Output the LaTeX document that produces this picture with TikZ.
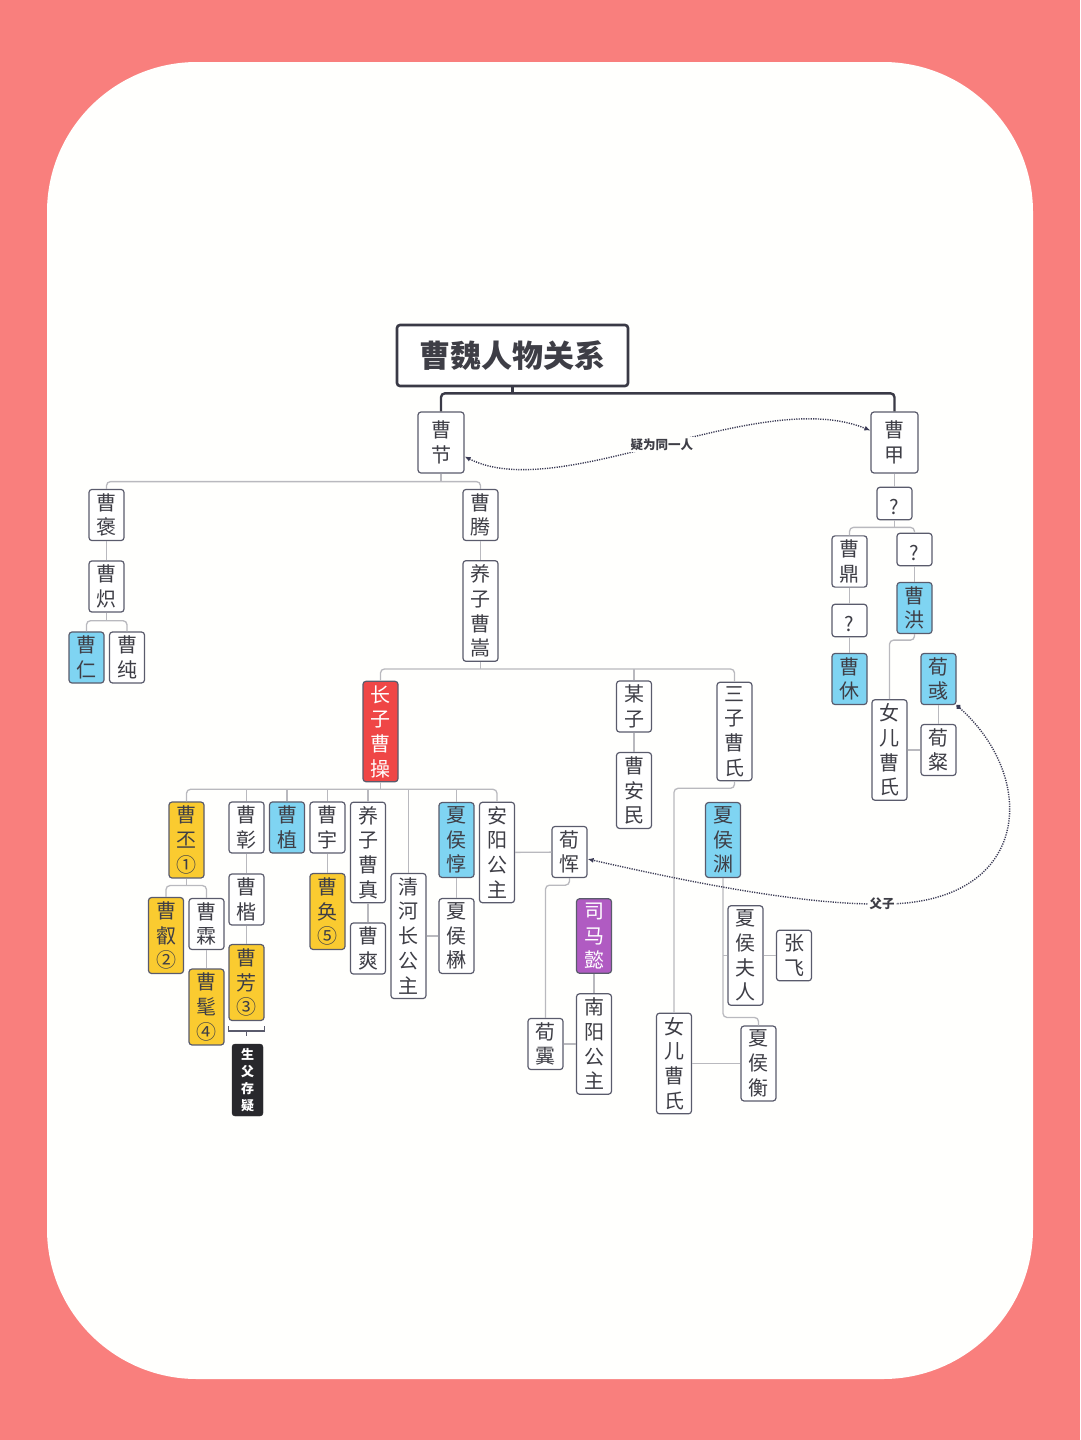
\documentclass[tikz,border=0pt]{standalone}
\usepackage{fontspec}
\setmainfont{Noto Sans CJK SC}
\usetikzlibrary{arrows.meta}

\definecolor{bgpink}{HTML}{F97F7D}
\definecolor{paper}{HTML}{FFFFFD}
\definecolor{nodeline}{HTML}{5A5B6C}
\definecolor{inkgrey}{HTML}{3E3E46}
\definecolor{linkgrey}{HTML}{B9B9BE}
\definecolor{darklink}{HTML}{3A3A46}
\definecolor{hintnavy}{HTML}{3B3B55}
\definecolor{genblue}{HTML}{7FD4F2}
\definecolor{empyellow}{HTML}{FACB30}
\definecolor{foundred}{HTML}{EF4646}
\definecolor{rivalpurple}{HTML}{B05BC2}
\definecolor{remarkblack}{HTML}{28282C}

\newcommand\vstrut{\rule[-1.5pt]{0pt}{24.5pt}}
\newcommand\personfont{\fontsize{20}{24.7}\selectfont}

\begin{document}
\begin{tikzpicture}[x=1pt, y=-1pt,
  person/.style={draw=nodeline, line width=1.2pt, fill=white, rounded corners=3pt,
    text=inkgrey, font=\personfont, align=center, minimum width=35pt,
    inner xsep=0pt, inner ysep=4pt,
    execute at begin node=\vstrut, execute at end node=\vstrut},
  general/.style={person, fill=genblue},
  emperor/.style={person, fill=empyellow},
  founder/.style={person, fill=foundred, text=white},
  rival/.style={person, fill=rivalpurple, text=white},
  remark/.style={fill=remarkblack, draw=remarkblack, rounded corners=3pt, text=white,
    font=\bfseries\fontsize{13}{17}\selectfont, align=center,
    minimum width=31pt, minimum height=72pt, inner sep=0pt},
  headline/.style={draw=darklink, line width=2.6pt, rounded corners=3pt, fill=white,
    text=inkgrey, font=\bfseries\fontsize{31}{31}\selectfont,
    minimum width=231pt, minimum height=61pt},
  mainlink/.style={draw=darklink, line width=2.4pt, rounded corners=4pt},
  link/.style={draw=linkgrey, line width=1.3pt, rounded corners=4pt},
  bracket/.style={draw=nodeline, line width=1.2pt},
  hint/.style={draw=hintnavy, line width=1.4pt, dash pattern=on 1.2pt off 1.2pt,
    >={Latex[length=6pt,width=5pt]}},
  tag/.style={fill=paper, inner sep=1.5pt, text=inkgrey,
    font=\bfseries\fontsize{12.5}{12.5}\selectfont}]

\useasboundingbox (0,0) rectangle (1080,1440);
\fill[bgpink] (0,0) rectangle (1080,1440);
\fill[paper, rounded corners=150pt] (47,62) rectangle (1033,1379);

\node[headline] (title) at (512.5,355.5) {曹魏人物关系};
\node[person, minimum width=46pt, minimum height=61pt] (cao_jie) at (441,442.5) {曹\\节};
\node[person, minimum width=47pt, minimum height=61pt] (cao_jia) at (894.5,442.5) {曹\\甲};

\node[person] (cao_bao) at (106.5,515) {曹\\褒};
\node[person] (cao_chi) at (106.5,586.5) {曹\\炽};
\node[general] (cao_ren) at (86.5,657.5) {曹\\仁};
\node[person] (cao_chun) at (127,657.5) {曹\\纯};
\node[person] (cao_teng) at (480.5,515) {曹\\腾};
\node[person] (cao_song) at (480.5,611) {养\\子\\曹\\嵩};

\node[founder] (cao_cao) at (380.5,731.5) {长\\子\\曹\\操};
\node[person] (mou_zi) at (634,706.5) {某\\子};
\node[person] (cao_anmin) at (634,790.5) {曹\\安\\民};
\node[person] (san_zi) at (734.5,731.5) {三\\子\\曹\\氏};

\node[emperor] (cao_pi) at (186.5,840) {曹\\丕\\①};
\node[person] (cao_zhang) at (246.5,827.5) {曹\\彰};
\node[general] (cao_zhi) at (287,827.5) {曹\\植};
\node[person] (cao_yu) at (327.5,827.5) {曹\\宇};
\node[person] (cao_zhen) at (368,852.5) {养\\子\\曹\\真};
\node[person] (qinghe) at (408.5,936) {清\\河\\长\\公\\主};
\node[general] (xiahou_dun) at (456.5,840) {夏\\侯\\惇};
\node[person] (anyang) at (497,852.5) {安\\阳\\公\\主};

\node[emperor] (cao_rui) at (166,935.5) {曹\\叡\\②};
\node[person] (cao_lin) at (206.5,924) {曹\\霖};
\node[emperor] (cao_mao) at (206.5,1007) {曹\\髦\\④};
\node[person] (cao_kai) at (246.5,899.5) {曹\\楷};
\node[emperor] (cao_fang) at (246.5,982.5) {曹\\芳\\③};
\node[remark] (doubt) at (247.5,1080) {生\\父\\存\\疑};
\node[emperor] (cao_huan) at (327.5,911.5) {曹\\奂\\⑤};
\node[person] (cao_shuang) at (368,948.5) {曹\\爽};
\node[person] (xiahou_mao) at (456.5,936) {夏\\侯\\楙};

\node[person] (xun_yun) at (569.5,852) {荀\\恽};
\node[person] (xun_yi) at (545.5,1044) {荀\\霬};
\node[rival] (sima_yi) at (594,936) {司\\马\\懿};
\node[person] (nanyang) at (594,1044) {南\\阳\\公\\主};

\node[general] (xiahou_yuan) at (723,840) {夏\\侯\\渊};
\node[person] (furen) at (745.5,955.5) {夏\\侯\\夫\\人};
\node[person] (zhang_fei) at (794,955.5) {张\\飞};
\node[person] (xiahou_heng) at (758.5,1063.5) {夏\\侯\\衡};
\node[person] (nver_b) at (674,1063.5) {女\\儿\\曹\\氏};

\node[person] (q_1) at (894.5,503.5) {?};
\node[person] (cao_ding) at (849.5,561.5) {曹\\鼎};
\node[person] (q_2) at (914.5,549.5) {?};
\node[person] (q_3) at (849.5,620.5) {?};
\node[general] (cao_xiu) at (849.5,679) {曹\\休};
\node[general] (cao_hong) at (914.5,608) {曹\\洪};
\node[person] (nver_a) at (889.5,750) {女\\儿\\曹\\氏};
\node[general] (xun_yu) at (938.5,679) {荀\\彧};
\node[person] (xun_can) at (938.5,750) {荀\\粲};

\draw[mainlink] (title.south) -- ++(0,6) coordinate (t_bus);
\draw[mainlink] (cao_jie.north) |- (t_bus) -| (cao_jia.north);

\draw[link] (cao_jie.south) -- ++(0,8) coordinate (jie_bus);
\draw[link] (cao_bao.north) |- (jie_bus) -| (cao_teng.north);
\draw[link] (cao_chi.south) -- ++(0,8) coordinate (chi_bus);
\draw[link] (cao_ren.north) |- (chi_bus) -| (cao_chun.north);

\draw[link] (cao_song.south) -- ++(0,7) coordinate (song_bus);
\draw[link] (cao_cao.north) |- (song_bus) -| (san_zi.north);
\draw[link] (mou_zi.north) -- (mou_zi.north |- song_bus);

\draw[link] (cao_cao.south) -- ++(0,7) coordinate (cao_bus);
\draw[link] (cao_pi.north) |- (cao_bus) -| (anyang.north);
\draw[link] (cao_zhang.north) -- (cao_zhang.north |- cao_bus);
\draw[link] (cao_zhi.north) -- (cao_zhi.north |- cao_bus);
\draw[link] (cao_yu.north) -- (cao_yu.north |- cao_bus);
\draw[link] (cao_zhen.north) -- (cao_zhen.north |- cao_bus);
\draw[link] (qinghe.north) -- (qinghe.north |- cao_bus);
\draw[link] (xiahou_dun.north) -- (xiahou_dun.north |- cao_bus);

\draw[link] (cao_pi.south) -- ++(0,7) coordinate (pi_bus);
\draw[link] (cao_rui.north) |- (pi_bus) -| (cao_lin.north);

\draw[link] (xun_yun.south) -- ++(0,7) -| (xun_yi.north);
\draw[link] (san_zi.south) -- ++(0,7) -| (nver_b.north);
\draw[link] (xiahou_yuan.south) |- ([yshift=8pt]xiahou_heng.north) -- (xiahou_heng.north);
\draw[link] (furen.west) -- (furen.west -| xiahou_yuan.south);

\draw[link] (q_1.south) -- ++(0,7) coordinate (q_bus);
\draw[link] (cao_ding.north) |- (q_bus) -| (q_2.north);
\draw[link] (cao_hong.south) -- ++(0,6) -| (nver_a.north);

\path[link]
(cao_bao) edge (cao_chi)
(cao_teng) edge (cao_song)
(mou_zi) edge (cao_anmin)
(cao_lin) edge (cao_mao)
(cao_zhang) edge (cao_kai)
(cao_kai) edge (cao_fang)
(cao_yu) edge (cao_huan)
(cao_zhen) edge (cao_shuang)
(xiahou_dun) edge (xiahou_mao)
(qinghe) edge (xiahou_mao)
(anyang) edge (xun_yun)
(sima_yi) edge (nanyang)
(xun_yi) edge (nanyang)
(furen) edge (zhang_fei)
(nver_b) edge (xiahou_heng)
(cao_jia) edge (q_1)
(cao_ding) edge (q_3)
(q_3) edge (cao_xiu)
(q_2) edge (cao_hong)
(xun_yu) edge (xun_can)
(nver_a) edge (xun_can);

\draw[bracket] ([yshift=-5pt]cao_fang.south west) -- ([yshift=-10pt]cao_fang.south west)
  -- ([yshift=-10pt]cao_fang.south east) -- ([yshift=-5pt]cao_fang.south east);
\draw[bracket] ([yshift=-10pt]cao_fang.south) -- ++(0,5);

\draw[hint, <->] ([yshift=-14pt]cao_jie.east) .. controls (560,505) and (760,385)
  .. ([yshift=12pt]cao_jia.west) node[pos=0.5, tag] {疑为同一人};
\draw[hint, {Circle[length=5pt]}->] (xun_yu.south east) .. controls (1040,780) and (1030,905)
  .. (882,904) node[tag] {父子} .. controls (800,905) and (680,880) .. ([yshift=-7pt]xun_yun.east);
\end{tikzpicture}
\end{document}
